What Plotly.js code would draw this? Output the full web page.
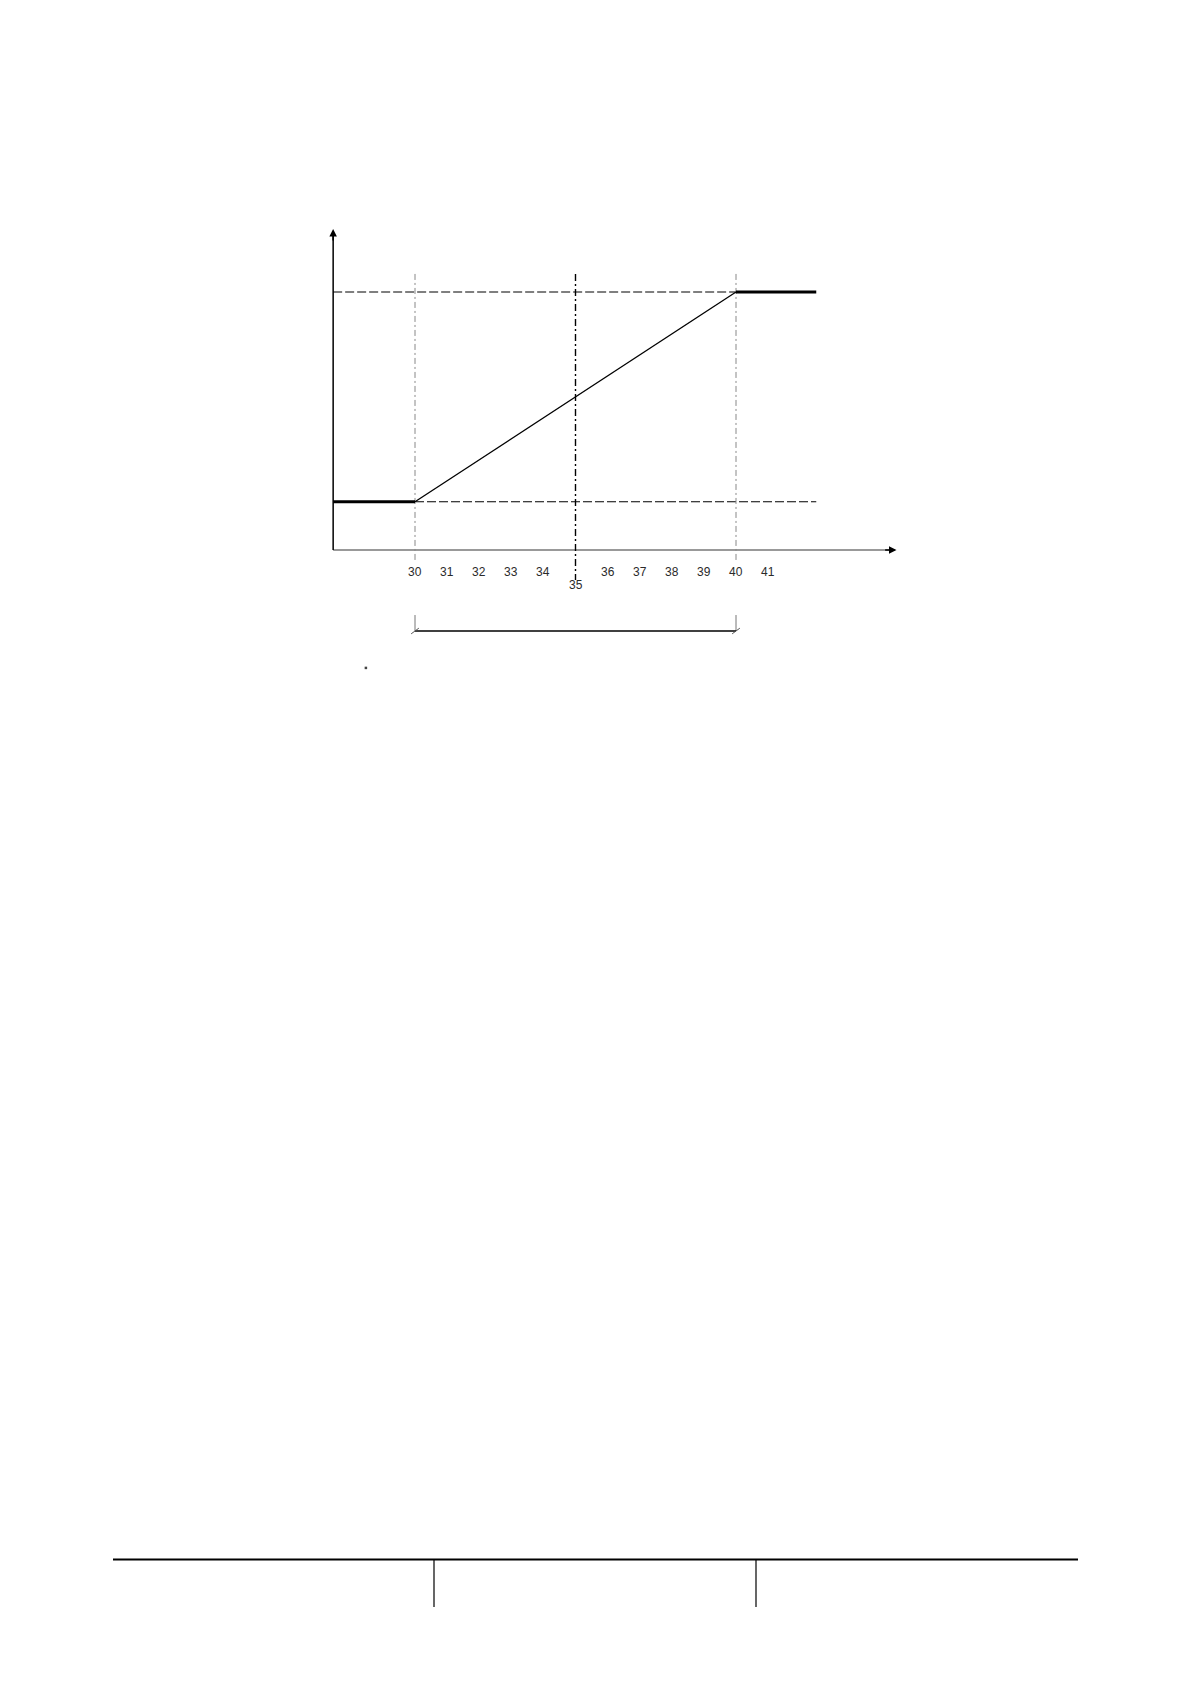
<!DOCTYPE html>
<html>
<head>
<meta charset="utf-8">
<script src="https://cdn.plot.ly/plotly-3.0.1.min.js"></script>
<style>html,body{margin:0;padding:0;background:#fff;}#chart{width:1191px;height:1684px;}</style>
</head>
<body>
<div id="chart"></div>
<script>
// ---- data ----
var tickValues = [30, 31, 32, 33, 34, 35, 36, 37, 38, 39, 40, 41];
var tickLabels = ["30", "31", "32", "33", "34", "35", "36", "37", "38", "39", "40", "41"];
var lowLevel = 0.187;
var highLevel = 1.0;
var rampStart = 30;
var rampMid = 35;
var rampEnd = 40;
var lowFlatX = [27.45, 30];
var lowFlatY = [lowLevel, lowLevel];
var rampX = [30, 40];
var rampY = [lowLevel, highLevel];
var highFlatX = [40, 42.5];
var highFlatY = [highLevel, highLevel];
var axisOriginX = 27.45;
var xAxisEnd = 45.0;
var yAxisTop = 1.244;

// ---- traces ----
var traces = [
  {x: [axisOriginX, xAxisEnd - 0.2], y: [0, 0], mode: 'lines', line: {color: '#777', width: 1.5}, hoverinfo: 'skip'},
  {x: [axisOriginX, axisOriginX], y: [0, yAxisTop - 0.02], mode: 'lines', line: {color: '#000', width: 1.5}, hoverinfo: 'skip'},
  {x: [axisOriginX, rampEnd], y: [highLevel, highLevel], mode: 'lines', line: {color: '#000', width: 1.2, dash: '9px,3px'}, hoverinfo: 'skip'},
  {x: [rampStart, highFlatX[1]], y: [lowLevel, lowLevel], mode: 'lines', line: {color: '#000', width: 1.2, dash: '9px,3px'}, hoverinfo: 'skip'},
  {x: [rampStart, rampStart], y: [1.07, -0.05], mode: 'lines', line: {color: '#888', width: 1, dash: '6px,3px,2px,3px'}, hoverinfo: 'skip'},
  {x: [rampEnd, rampEnd], y: [1.07, -0.05], mode: 'lines', line: {color: '#888', width: 1, dash: '6px,3px,2px,3px'}, hoverinfo: 'skip'},
  {x: [rampMid, rampMid], y: [1.07, -0.116], mode: 'lines', line: {color: '#000', width: 1.4, dash: '7px,3px,2px,3px'}, hoverinfo: 'skip'},
  {x: lowFlatX, y: lowFlatY, mode: 'lines', line: {color: '#000', width: 3.2}, hoverinfo: 'skip'},
  {x: rampX, y: rampY, mode: 'lines', line: {color: '#000', width: 1.3}, hoverinfo: 'skip'},
  {x: highFlatX, y: highFlatY, mode: 'lines', line: {color: '#000', width: 3.2}, hoverinfo: 'skip'},
  // bracket
  {x: [rampStart, rampStart], y: [-0.252, -0.314], mode: 'lines', line: {color: '#777', width: 1}, hoverinfo: 'skip'},
  {x: [rampEnd, rampEnd], y: [-0.252, -0.314], mode: 'lines', line: {color: '#777', width: 1}, hoverinfo: 'skip'},
  {x: [rampStart, rampEnd], y: [-0.314, -0.314], mode: 'lines', line: {color: '#000', width: 1.6}, hoverinfo: 'skip'},
  {x: [rampStart - 0.12, rampStart + 0.12], y: [-0.325, -0.303], mode: 'lines', line: {color: '#555', width: 1}, hoverinfo: 'skip'},
  {x: [rampEnd - 0.12, rampEnd + 0.12], y: [-0.325, -0.303], mode: 'lines', line: {color: '#555', width: 1}, hoverinfo: 'skip'},
  // stray dot
  {x: [28.47], y: [-0.457], mode: 'markers', marker: {color: '#444', size: 2.5, symbol: 'square'}, hoverinfo: 'skip'}
];

// ---- annotations ----
var annotations = [];
for (var i = 0; i < tickValues.length; i++) {
  annotations.push({
    x: tickValues[i], y: tickValues[i] === rampMid ? -0.134 : -0.0853,
    xref: 'x', yref: 'y', text: tickLabels[i], showarrow: false,
    font: {family: 'Liberation Sans, Arial, sans-serif', size: 12, color: '#2a2a2a'},
    xanchor: 'center', yanchor: 'middle'
  });
}
// arrow heads
annotations.push({x: axisOriginX, y: yAxisTop, ax: axisOriginX, ay: yAxisTop - 0.05, xref: 'x', yref: 'y', axref: 'x', ayref: 'y',
  showarrow: true, arrowhead: 2, arrowsize: 1, arrowwidth: 1.5, arrowcolor: '#000', text: ''});
annotations.push({x: xAxisEnd, y: 0, ax: xAxisEnd - 0.4, ay: 0, xref: 'x', yref: 'y', axref: 'x', ayref: 'y',
  showarrow: true, arrowhead: 2, arrowsize: 1, arrowwidth: 1.5, arrowcolor: '#000', text: ''});

// ---- footer ----
var shapes = [
  {type: 'line', xref: 'paper', yref: 'paper', x0: 113/1191, x1: 1078/1191, y0: 1 - 1559.5/1684, y1: 1 - 1559.5/1684, line: {color: '#000', width: 2.2}},
  {type: 'line', xref: 'paper', yref: 'paper', x0: 434/1191, x1: 434/1191, y0: 1 - 1560/1684, y1: 1 - 1607/1684, line: {color: '#000', width: 1.2}},
  {type: 'line', xref: 'paper', yref: 'paper', x0: 756/1191, x1: 756/1191, y0: 1 - 1560/1684, y1: 1 - 1607/1684, line: {color: '#000', width: 1.2}}
];

var pxPerX = 32.1, x30px = 415, pxPerY = 258, y0px = 550;
var layout = {
  width: 1191, height: 1684,
  margin: {l: 0, r: 0, t: 0, b: 0},
  paper_bgcolor: '#fff', plot_bgcolor: '#fff',
  showlegend: false,
  xaxis: {range: [30 - x30px / pxPerX, 30 + (1191 - x30px) / pxPerX], visible: false, fixedrange: true},
  yaxis: {range: [-(1684 - y0px) / pxPerY, y0px / pxPerY], visible: false, fixedrange: true},
  annotations: annotations,
  shapes: shapes
};
Plotly.newPlot('chart', traces, layout, {staticPlot: true, displayModeBar: false});
</script>
</body>
</html>
